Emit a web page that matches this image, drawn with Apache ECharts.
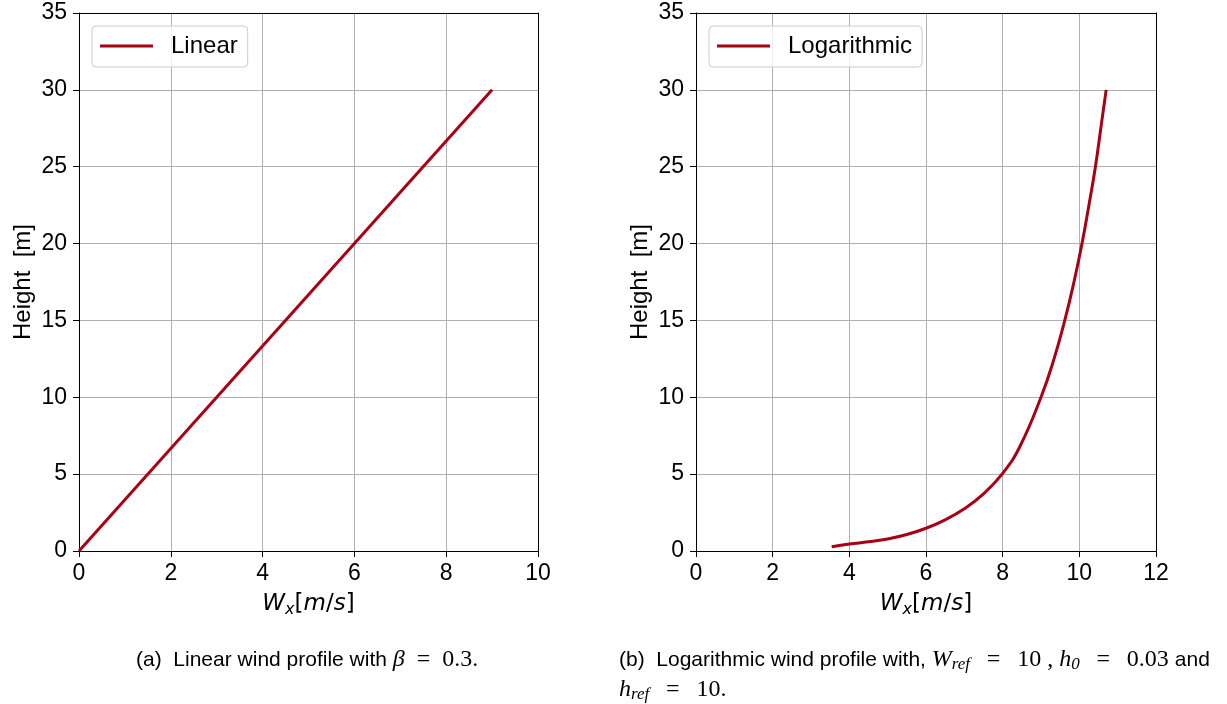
<!DOCTYPE html>
<html>
<head>
<meta charset="utf-8">
<script src="https://cdn.jsdelivr.net/npm/echarts@6/dist/echarts.min.js"></script>
<style>
  html, body { margin: 0; padding: 0; background: #fff; }
  #chart { width: 1227px; height: 704px; }
</style>
</head>
<body>
<div id="chart"></div>
<script>
// Linear wind profile: wind speed W_x [m/s] against height [m]
const linearW = [0, 9];
const linearH = [0, 30];

// Logarithmic wind profile: wind speed W_x [m/s] against height [m]
const logW = [3.54, 4.0, 4.5, 5.0, 5.5, 6.0, 6.5, 7.0, 7.5, 8.0, 8.45, 9.0, 9.34, 9.62, 9.86, 10.07, 10.25, 10.42, 10.56, 10.7];
const logH = [0.28, 0.45, 0.6, 0.78, 1.07, 1.48, 2.03, 2.75, 3.72, 5.05, 6.8, 10.0, 12.5, 15.0, 17.5, 20.0, 22.5, 25.0, 27.5, 30.0];

// Axis ranges and tick steps
const leftXTicks = { min: 0, max: 10, interval: 2 };
const rightXTicks = { min: 0, max: 12, interval: 2 };
const heightTicks = { min: 0, max: 35, interval: 5 };

const seriesNames = ['Linear', 'Logarithmic'];
const lineColor = '#a50014';

const pairs = (xs, ys) => xs.map((x, i) => [x, ys[i]]);

const tickFont = { fontFamily: 'Liberation Sans', fontSize: 23, color: '#000' };
const gridColor = '#b0b0b0';
const spineColor = '#000';

const xName = '{i|W}{s|x}{n|[}{i|m}{n|/}{i|s}{n|]}';
const xNameRich = {
  i: { fontFamily: 'DejaVu Sans', fontStyle: 'italic', fontSize: 23, color: '#000', lineHeight: 28 },
  n: { fontFamily: 'DejaVu Sans', fontSize: 23, color: '#000', lineHeight: 28 },
  s: { fontFamily: 'DejaVu Sans', fontStyle: 'italic', fontSize: 16, color: '#000', lineHeight: 28, padding: [12, 0, 0, 0] }
};

function bottomX(gridIndex, ticks) {
  return {
    type: 'value', gridIndex, position: 'bottom',
    min: ticks.min, max: ticks.max, interval: ticks.interval,
    name: xName, nameLocation: 'middle', nameGap: 38,
    nameTextStyle: { rich: xNameRich },
    axisLine: { show: true, onZero: false, lineStyle: { color: spineColor, width: 1 } },
    axisTick: { show: true, inside: false, length: 6, lineStyle: { color: spineColor } },
    axisLabel: Object.assign({ margin: 11 }, tickFont),
    splitLine: { show: true, lineStyle: { color: gridColor, width: 1 } }
  };
}
function topX(gridIndex, ticks) {
  return {
    type: 'value', gridIndex, position: 'top',
    min: ticks.min, max: ticks.max, interval: ticks.interval,
    axisLine: { show: true, onZero: false, lineStyle: { color: spineColor, width: 1 } },
    axisTick: { show: false }, axisLabel: { show: false }, splitLine: { show: false }
  };
}
function leftY(gridIndex) {
  return {
    type: 'value', gridIndex, position: 'left',
    min: heightTicks.min, max: heightTicks.max, interval: heightTicks.interval,
    name: 'Height  [m]', nameLocation: 'middle', nameGap: 44, nameRotate: 90,
    nameTextStyle: { fontFamily: 'Liberation Sans', fontSize: 24, color: '#000' },
    axisLine: { show: true, onZero: false, lineStyle: { color: spineColor, width: 1 } },
    axisTick: { show: true, inside: false, length: 6, lineStyle: { color: spineColor } },
    axisLabel: Object.assign({ margin: 12 }, tickFont),
    splitLine: { show: true, lineStyle: { color: gridColor, width: 1 } }
  };
}
function rightY(gridIndex) {
  return {
    type: 'value', gridIndex, position: 'right',
    min: heightTicks.min, max: heightTicks.max, interval: heightTicks.interval,
    axisLine: { show: true, onZero: false, lineStyle: { color: spineColor, width: 1 } },
    axisTick: { show: false }, axisLabel: { show: false }, splitLine: { show: false }
  };
}

function legendBox(left, name) {
  return {
    left, top: 26,
    data: [{ name, icon: 'rect' }],
    orient: 'horizontal',
    itemWidth: 53, itemHeight: 3,
    padding: [8, 10, 9, 8],
    backgroundColor: 'rgba(255,255,255,0.8)',
    borderColor: '#cccccc', borderWidth: 1, borderRadius: 4,
    textStyle: { fontFamily: 'Liberation Sans', fontSize: 24, color: '#000', padding: [0, 0, 0, 13] }
  };
}

// Caption text styles: sans-serif prose, serif math
const capRich = {
  t: { fontFamily: 'Liberation Sans', fontSize: 21, fill: '#000' },
  m: { fontFamily: 'Liberation Serif', fontStyle: 'italic', fontSize: 24, fill: '#000' },
  ms: { fontFamily: 'Liberation Serif', fontStyle: 'italic', fontSize: 17, fill: '#000', padding: [9, 0, 0, 0] },
  r: { fontFamily: 'Liberation Serif', fontSize: 24, fill: '#000' }
};
const EQ = '\u2002=\u2002';
const EQB = '\u2002\u2009=\u2002\u2009';

const chart = echarts.init(document.getElementById('chart'), null, { renderer: 'canvas' });
chart.setOption({
  animation: false,
  backgroundColor: '#ffffff',
  grid: [
    { left: 79, top: 13, width: 459, height: 538 },
    { left: 696, top: 13, width: 460, height: 538 }
  ],
  xAxis: [bottomX(0, leftXTicks), topX(0, leftXTicks), bottomX(1, rightXTicks), topX(1, rightXTicks)],
  yAxis: [leftY(0), rightY(0), leftY(1), rightY(1)],
  legend: [legendBox(92, seriesNames[0]), legendBox(709, seriesNames[1])],
  series: [
    {
      name: seriesNames[0], type: 'line', xAxisIndex: 0, yAxisIndex: 0,
      data: pairs(linearW, linearH), symbol: 'none',
      lineStyle: { color: lineColor, width: 3 }, itemStyle: { color: lineColor }
    },
    {
      name: seriesNames[1], type: 'line', xAxisIndex: 2, yAxisIndex: 2,
      data: pairs(logW, logH), symbol: 'none', smooth: 0.45,
      lineStyle: { color: lineColor, width: 3 }, itemStyle: { color: lineColor }
    }
  ],
  graphic: [
    {
      type: 'text', left: 136, top: 648,
      style: {
        text: '{t|(a)  Linear wind profile with }{m|β}{r|' + EQ + '0.3.}',
        rich: capRich
      }
    },
    {
      type: 'text', left: 619, top: 648,
      style: {
        text: '{t|(b)  Logarithmic wind profile with, }{m|W}{ms|ref}{r|' + EQB + '10 , }{m|h}{ms|0}{r|' + EQB + '0.03 }{t|and}',
        rich: capRich
      }
    },
    {
      type: 'text', left: 619, top: 678,
      style: {
        text: '{m|h}{ms|ref}{r|' + EQB + '10.}',
        rich: capRich
      }
    }
  ]
});
</script>
</body>
</html>
